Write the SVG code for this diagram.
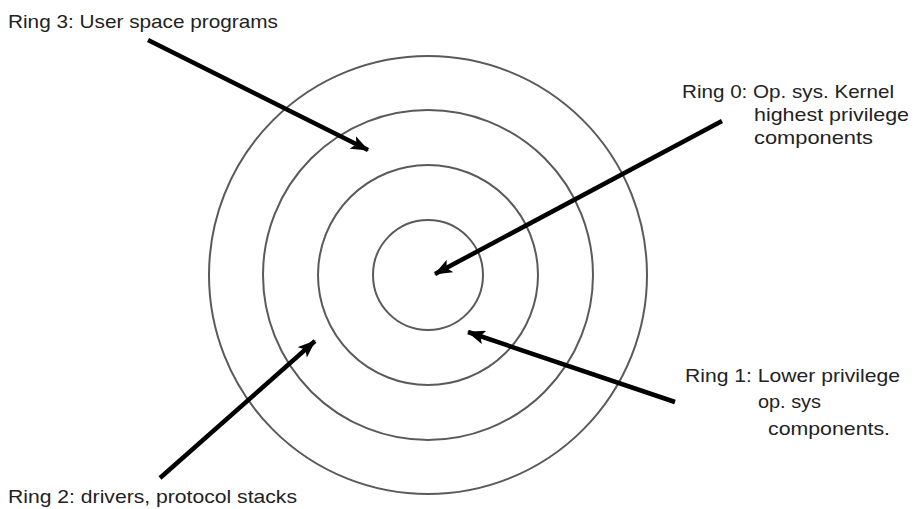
<svg xmlns="http://www.w3.org/2000/svg" width="916" height="509" viewBox="0 0 916 509">
<style>
.ring{fill:none;stroke:#5a5a5a;stroke-width:2}
.arr{stroke:#000;stroke-width:4.5;fill:none;marker-end:url(#ah)}
text{font-family:"Liberation Sans",Arial,sans-serif;font-size:19px;fill:#222}
</style>
<defs>
<marker id="ah" markerUnits="userSpaceOnUse" viewBox="0 0 18 14" refX="17" refY="7" markerWidth="18" markerHeight="14" orient="auto">
<path d="M0,0 L18,7 L0,14 L4,7 Z" fill="#000"/>
</marker>
</defs>
<rect width="916" height="509" fill="#fff"/>
<g id="ring3"><circle class="ring" cx="428" cy="275" r="219"/></g>
<g id="ring2"><circle class="ring" cx="428" cy="275" r="165"/></g>
<g id="ring1"><circle class="ring" cx="428" cy="275" r="110"/></g>
<g id="ring0"><circle class="ring" cx="428" cy="275" r="55"/></g>
<g id="connectors">
<line class="arr" x1="148" y1="40" x2="368" y2="150"/>
<line class="arr" x1="722" y1="121" x2="435" y2="274"/>
<line class="arr" x1="675" y1="402" x2="468" y2="332"/>
<line class="arr" x1="160" y1="478" x2="315" y2="341"/>
</g>
<g id="label-ring3"><text x="8" y="28" textLength="270" lengthAdjust="spacingAndGlyphs">Ring 3: User space programs</text></g>
<g id="label-ring0">
<text x="682" y="98" textLength="212" lengthAdjust="spacingAndGlyphs">Ring 0: Op. sys. Kernel</text>
<text x="754" y="121" textLength="155" lengthAdjust="spacingAndGlyphs">highest privilege</text>
<text x="754" y="144" textLength="119" lengthAdjust="spacingAndGlyphs">components</text>
</g>
<g id="label-ring1">
<text x="685" y="382" textLength="215" lengthAdjust="spacingAndGlyphs">Ring 1: Lower privilege</text>
<text x="758" y="408" textLength="63" lengthAdjust="spacingAndGlyphs">op. sys</text>
<text x="768" y="435" textLength="122" lengthAdjust="spacingAndGlyphs">components.</text>
</g>
<g id="label-ring2"><text x="8" y="503" textLength="289" lengthAdjust="spacingAndGlyphs">Ring 2: drivers, protocol stacks</text></g>
</svg>
